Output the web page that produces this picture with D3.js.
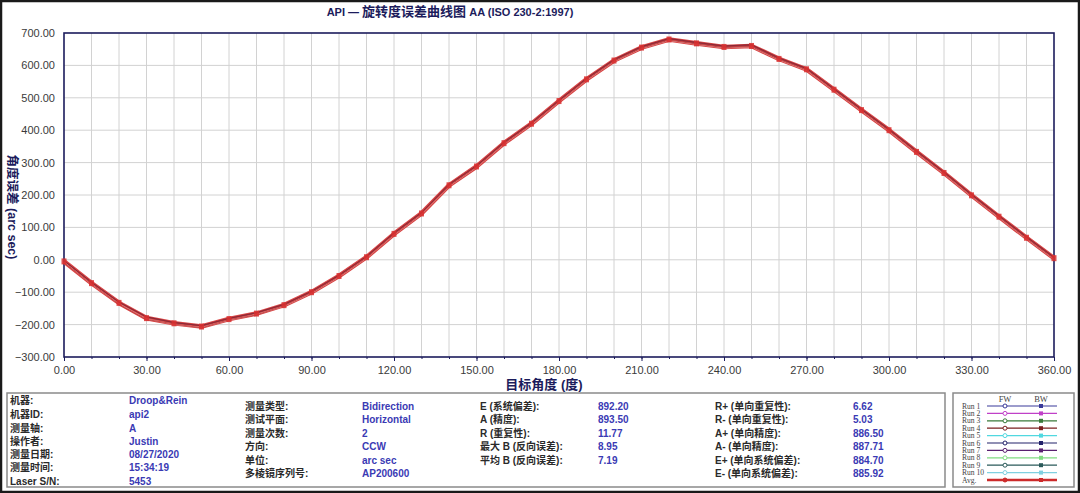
<!DOCTYPE html>
<html>
<head>
<meta charset="utf-8">
<script src="https://cdn.jsdelivr.net/npm/d3@7"></script>
<style>
  body { margin: 0; background: #fff; }
  svg { display: block; }
</style>
</head>
<body>
<div class="chart"></div>
<script>
// target angles (deg), one reading every 10 degrees
var angles = [0, 10, 20, 30, 40, 50, 60, 70, 80, 90, 100, 110, 120, 130, 140, 150, 160, 170, 180,
              190, 200, 210, 220, 230, 240, 250, 260, 270, 280, 290, 300, 310, 320, 330, 340, 350, 360];

// error values (arc sec)
var avgErr = [-5, -72, -133, -180, -196, -206, -183, -166, -140, -100, -50, 8, 80, 143, 230, 288, 360, 420, 490,
              557, 615, 655, 680, 668, 657, 660, 620, 588, 525, 462, 400, 333, 268, 199, 133, 68, 5];
var run1Fw = [-3, -69, -131, -176, -194, -203, -181, -163, -138, -97, -48, 11, 83, 146, 233, 290, 363, 423, 492,
              560, 618, 658, 683, 671, 660, 664, 623, 591, 528, 465, 403, 336, 271, 202, 136, 71, 8];
var run1Bw = [-7, -75, -136, -183, -199, -209, -186, -169, -143, -103, -53, 5, 77, 140, 227, 285, 357, 417, 487,
              554, 612, 652, 677, 665, 654, 657, 617, 585, 522, 459, 397, 330, 265, 196, 130, 65, 2];
var run2Fw = [-2, -70, -130, -177, -193, -204, -180, -164, -137, -98, -47, 10, 82, 145, 232, 291, 362, 422, 493,
              559, 617, 657, 682, 670, 659, 662, 622, 590, 527, 464, 402, 335, 270, 201, 135, 70, 7];
var run2Bw = [-8, -74, -137, -184, -198, -210, -185, -170, -142, -102, -52, 6, 78, 141, 228, 286, 358, 418, 488,
              555, 613, 653, 678, 666, 655, 658, 618, 586, 523, 460, 398, 331, 266, 197, 131, 66, 3];

var xTicks = [0, 30, 60, 90, 120, 150, 180, 210, 240, 270, 300, 330, 360];
var yTicks = [-300, -200, -100, 0, 100, 200, 300, 400, 500, 600, 700];

// info panel texts
var infoLabels1 = ["机器:", "机器ID:", "测量轴:", "操作者:", "测量日期:", "测量时间:", "Laser S/N:"];
var infoValues1 = ["Droop&Rein", "api2", "A", "Justin", "08/27/2020", "15:34:19", "5453"];
var infoLabels2 = ["测量类型:", "测试平面:", "测量次数:", "方向:", "单位:", "多棱镜序列号:"];
var infoValues2 = ["Bidirection", "Horizontal", "2", "CCW", "arc sec", "AP200600"];
var infoLabels3 = ["E (系统偏差):", "A (精度):", "R (重复性):", "最大 B (反向误差):", "平均 B (反向误差):"];
var infoValues3 = ["892.20", "893.50", "11.77", "8.95", "7.19"];
var infoLabels4 = ["R+ (单向重复性):", "R- (单向重复性):", "A+ (单向精度):", "A- (单向精度):", "E+ (单向系统偏差):", "E- (单向系统偏差):"];
var infoValues4 = ["6.62", "5.03", "886.50", "887.71", "884.70", "885.92"];

// legend
var legendNames = ["Run 1", "Run 2", "Run 3", "Run 4", "Run 5", "Run 6", "Run 7", "Run 8", "Run 9", "Run 10", "Avg."];
var legendColors = ["#3a3a9a", "#c040c8", "#3a7a3a", "#7a1e1e", "#50d8e0", "#22226a", "#5a2070", "#80dc80", "#2a5a5a", "#80d0e0", "#cc2a2a"];

var W = 1080, H = 493;
var plot = {left: 64, right: 1054, top: 33, bottom: 357};
var navy = "#1c1c5c",
    valueBlue = "#3a3ab4",
    cjk = "'Liberation Sans', 'Noto Sans CJK SC', sans-serif";

var svg = d3.select(".chart").append("svg")
    .attr("width", W)
    .attr("height", H)
    .style("font-family", cjk);

svg.append("rect").attr("width", W).attr("height", H).attr("fill", "#fff");

var x = d3.scaleLinear().domain([0, 360]).range([plot.left, plot.right]);
var y = d3.scaleLinear().domain([-300, 700]).range([plot.bottom, plot.top]);

// grid
var grid = svg.append("g").attr("class", "grid");
grid.selectAll("line.v")
    .data(d3.range(10, 360, 10))
  .enter().append("line")
    .attr("x1", function(d) { return x(d); })
    .attr("x2", function(d) { return x(d); })
    .attr("y1", plot.top).attr("y2", plot.bottom)
    .attr("stroke", "#d2d2d2").attr("stroke-width", 1);
grid.selectAll("line.h")
    .data(yTicks.slice(1, -1))
  .enter().append("line")
    .attr("x1", plot.left).attr("x2", plot.right)
    .attr("y1", function(d) { return y(d); })
    .attr("y2", function(d) { return y(d); })
    .attr("stroke", "#d2d2d2").attr("stroke-width", 1);

// y axis
var yAxis = d3.axisLeft(y).tickValues(yTicks).tickFormat(d3.format(".2f")).tickSize(0).tickPadding(9);
var yg = svg.append("g").attr("transform", "translate(" + plot.left + ",0)").call(yAxis);
yg.select(".domain").remove();
yg.selectAll("text").attr("fill", "#3a3a3a").style("font-size", "11px").style("font-family", "'Liberation Sans', sans-serif");

// x axis, minor ticks every 10 deg
var xMinor = d3.axisBottom(x).tickValues(d3.range(0, 361, 10)).tickFormat("").tickSize(2);
var xm = svg.append("g").attr("transform", "translate(0," + plot.bottom + ")").call(xMinor);
xm.select(".domain").remove();
xm.selectAll("line").attr("stroke", navy);

var xAxis = d3.axisBottom(x).tickValues(xTicks).tickFormat(d3.format(".2f")).tickSize(4).tickPadding(5);
var xg = svg.append("g").attr("transform", "translate(0," + plot.bottom + ")").call(xAxis);
xg.select(".domain").remove();
xg.selectAll("line").attr("stroke", navy);
xg.selectAll("text").attr("fill", "#3a3a3a").style("font-size", "11px").style("font-family", "'Liberation Sans', sans-serif");

// plot frame
svg.append("rect")
    .attr("x", plot.left).attr("y", plot.top)
    .attr("width", plot.right - plot.left).attr("height", plot.bottom - plot.top)
    .attr("fill", "none").attr("stroke", navy).attr("stroke-width", 1.6);

// curves
function series(vals) {
    return vals.map(function(v, i) { return {a: angles[i], v: v}; });
}
var line = d3.line()
    .x(function(d) { return x(d.a); })
    .y(function(d) { return y(d.v); });

// averaged curve: thick red band
svg.append("path")
    .datum(series(avgErr))
    .attr("d", line)
    .attr("fill", "none")
    .attr("stroke", "#d84444")
    .attr("stroke-width", 4.6)
    .attr("stroke-linejoin", "round");

// the two runs, forward and backward, thin on top
var runs = [
    {vals: run1Fw, color: "#6a1c2a"},
    {vals: run1Bw, color: "#f4d0d0"},
    {vals: run2Fw, color: "#8a2a3a"},
    {vals: run2Bw, color: "#b02a2a"}
];
runs.forEach(function(r) {
    svg.append("path")
        .datum(series(r.vals))
        .attr("d", line)
        .attr("fill", "none")
        .attr("stroke", r.color)
        .attr("stroke-width", 0.8)
        .attr("stroke-opacity", 0.9);
});

// avg markers
svg.append("g").selectAll("rect")
    .data(series(avgErr))
  .enter().append("rect")
    .attr("x", function(d) { return x(d.a) - 2.5; })
    .attr("y", function(d) { return y(d.v) - 3; })
    .attr("width", 5).attr("height", 6)
    .attr("fill", "#d83030")
    .attr("fill-opacity", 0.85);

// titles
var title = svg.append("text")
    .attr("x", 450).attr("y", 16)
    .attr("text-anchor", "middle")
    .attr("fill", navy)
    .style("font-weight", "bold");
title.append("tspan").style("font-size", "11px").text("API — ");
title.append("tspan").style("font-size", "13px").style("font-family", "'Noto Sans CJK SC', sans-serif").text("旋转度误差曲线图");
title.append("tspan").style("font-size", "11px").text(" AA (ISO 230-2:1997)");

svg.append("text")
    .attr("transform", "translate(8,207)rotate(90)")
    .attr("text-anchor", "middle")
    .attr("fill", navy)
    .style("font-size", "12.5px")
    .style("font-weight", "bold")
    .text("角度误差 (arc sec)");

svg.append("text")
    .attr("x", 544).attr("y", 389)
    .attr("text-anchor", "middle")
    .attr("fill", navy)
    .style("font-size", "13px")
    .style("font-weight", "bold")
    .text("目标角度 (度)");

// info panel
svg.append("rect")
    .attr("x", 7).attr("y", 393).attr("width", 938).attr("height", 94)
    .attr("fill", "#fff").attr("stroke", "#8a8a8a").attr("stroke-width", 1.5);

function infoColumn(labels, values, lx, vx, ys) {
    var g = svg.append("g").style("font-size", "10px");
    g.selectAll("text.l")
        .data(labels)
      .enter().append("text")
        .attr("x", lx)
        .attr("y", function(d, i) { return ys[i] + 3.5; })
        .attr("fill", "#2a2a2a")
        .style("font-weight", "bold")
        .text(function(d) { return d; });
    g.selectAll("text.v")
        .data(values)
      .enter().append("text")
        .attr("x", vx)
        .attr("y", function(d, i) { return ys[i] + 3.5; })
        .attr("fill", valueBlue)
        .style("font-weight", "bold")
        .text(function(d) { return d; });
}
infoColumn(infoLabels1, infoValues1, 10, 129, [400, 414, 428, 441, 454, 467, 481]);
infoColumn(infoLabels2, infoValues2, 245, 362, [406, 419, 433, 446, 460, 473]);
infoColumn(infoLabels3, infoValues3, 480, 598, [406, 419, 433, 446, 460]);
infoColumn(infoLabels4, infoValues4, 715, 853, [406, 419, 433, 446, 460, 473]);

// legend box
svg.append("rect")
    .attr("x", 953).attr("y", 393).attr("width", 121).attr("height", 94)
    .attr("fill", "#fff").attr("stroke", "#8a8a8a").attr("stroke-width", 1.5);

var lg = svg.append("g").style("font-family", "'Liberation Serif', 'DejaVu Serif', serif");
lg.append("text").attr("x", 1005).attr("y", 402).attr("text-anchor", "middle")
    .attr("fill", "#444").style("font-size", "8.5px").text("FW");
lg.append("text").attr("x", 1041).attr("y", 402).attr("text-anchor", "middle")
    .attr("fill", "#444").style("font-size", "8.5px").text("BW");

var rows = lg.selectAll("g.row")
    .data(legendNames)
  .enter().append("g")
    .attr("transform", function(d, i) { return "translate(0," + (406 + i * 7.4) + ")"; });
rows.append("text")
    .attr("x", 962).attr("y", 2.5)
    .attr("fill", "#444")
    .style("font-size", "7.6px")
    .text(function(d) { return d; });
rows.append("line")
    .attr("x1", 987).attr("x2", 1057)
    .attr("stroke", function(d, i) { return legendColors[i]; })
    .attr("stroke-width", function(d, i) { return i === legendNames.length - 1 ? 2.5 : 1.2; });
rows.append("circle")
    .attr("cx", 1005).attr("r", 2)
    .attr("fill", function(d, i) { return i === legendNames.length - 1 ? legendColors[i] : "#fff"; })
    .attr("stroke", function(d, i) { return legendColors[i]; })
    .attr("stroke-width", 1);
rows.append("rect")
    .attr("x", 1039).attr("y", -2).attr("width", 4).attr("height", 4)
    .attr("fill", function(d, i) { return legendColors[i]; });

// outer frame of the screenshot
svg.append("rect")
    .attr("x", 1).attr("y", 1).attr("width", W - 2).attr("height", H - 2)
    .attr("fill", "none").attr("stroke", "#1a1a1a").attr("stroke-width", 2.5);
</script>
</body>
</html>
